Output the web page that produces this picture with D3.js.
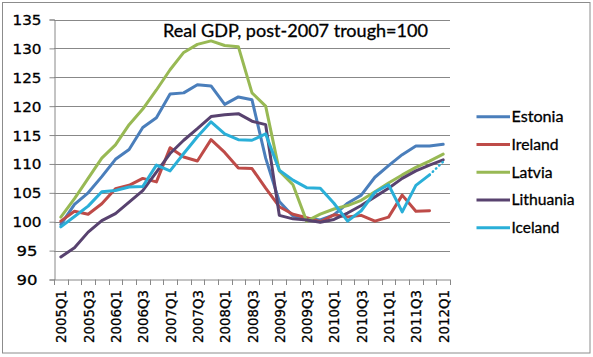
<!DOCTYPE html>
<html>
<head>
<meta charset="utf-8">
<script src="https://cdn.jsdelivr.net/npm/d3@7"></script>
<style>
  html, body { margin: 0; padding: 0; background: #fff; }
  svg { display: block; }
  text { stroke: #000; stroke-width: 0.3px; }
</style>
</head>
<body>
<svg id="chart" width="593" height="357"></svg>
<script>
const quarters = ["2005Q1","2005Q2","2005Q3","2005Q4","2006Q1","2006Q2","2006Q3","2006Q4",
  "2007Q1","2007Q2","2007Q3","2007Q4","2008Q1","2008Q2","2008Q3","2008Q4",
  "2009Q1","2009Q2","2009Q3","2009Q4","2010Q1","2010Q2","2010Q3","2010Q4",
  "2011Q1","2011Q2","2011Q3","2011Q4","2012Q1"];
const xTickLabels = ["2005Q1","2005Q3","2006Q1","2006Q3","2007Q1","2007Q3","2008Q1","2008Q3",
  "2009Q1","2009Q3","2010Q1","2010Q3","2011Q1","2011Q3","2012Q1"];
const yTicks = [90, 95, 100, 105, 110, 115, 120, 125, 130, 135];

const estonia   = [99.5,103,105,107.8,110.8,112.5,116.3,118,122.1,122.3,123.7,123.5,120.3,121.6,121.1,111,103.5,101,100.6,100.3,101.2,103.2,104.6,107.7,109.7,111.6,113.1,113.1,113.4];
const ireland   = [100.1,101.8,101.3,103.1,105.7,106.3,107.5,106.9,112.8,111.2,110.5,114.2,112,109.3,109.2,105.8,102.6,101.3,100.7,100,101.2,100.8,101.1,100.1,100.8,104.6,101.8,101.9,null];
const latvia    = [100.8,104,107.5,111,113.3,116.8,119.5,122.8,126.3,129.3,130.7,131.3,130.5,130.3,122.3,120,108.8,106.4,100.1,101.3,102.2,102.8,103.7,105.2,106.7,108.1,109.4,110.5,111.7];
const lithuania = [93.9,95.5,98.2,100.2,101.4,103.4,105.4,108.6,111.8,114.1,116.1,118.2,118.5,118.7,117.4,116.8,101.1,100.5,100.3,99.9,100.4,101.5,102.8,104.3,105.8,107.5,108.8,109.8,110.7];
const iceland   = [99.1,100.9,102.7,105.2,105.4,106,106.1,109.8,108.8,111.8,114.7,117.3,115.2,114.2,114.1,115.2,108.9,107.2,105.9,105.8,103.2,100.1,101.9,105.1,106.4,101.7,106.3,108.1,null];
const icelandProjection = [null,null,null,null,null,null,null,null,null,null,null,null,null,null,null,null,null,null,null,null,null,null,null,null,null,null,null,108.1,110.4];

const seriesNames = ["Estonia","Ireland","Latvia","Lithuania","Iceland"];
const seriesValues = [estonia, ireland, latvia, lithuania, iceland];
const seriesColors = ["#4A7EBB","#BE4B48","#98B954","#58426F","#2AAFD8"];
const legendWidths = [52, 47, 41, 63, 48];

const svg = d3.select("#chart");
const L = 54, R = 450, T = 19.5, B = 279.5;

// outer border
svg.append("rect").attr("x", 2.5).attr("y", 2.5).attr("width", 587.5).attr("height", 350.5)
  .attr("fill", "#fff").attr("stroke", "#8c8c8c").attr("stroke-width", 1);

const x = d3.scaleBand().domain(quarters).range([L, R]).paddingInner(0).paddingOuter(0);
const y = d3.scaleLinear().domain([90, 135]).range([B, T]);
const cx = q => x(q) + x.bandwidth() / 2;

// gridlines
svg.append("g").selectAll("line").data(yTicks.filter(v => v > 90)).join("line")
  .attr("x1", L).attr("x2", R)
  .attr("y1", d => Math.round(y(d)) + 0.5).attr("y2", d => Math.round(y(d)) + 0.5)
  .attr("stroke", "#888").attr("stroke-width", 1);

// y axis
const yAxis = d3.axisLeft(y).tickValues(yTicks).tickSize(5).tickFormat(d3.format("d"));
const gy = svg.append("g").attr("transform", `translate(${L + 0.5},0)`).call(yAxis);
gy.select(".domain").attr("stroke", "#888");
gy.selectAll(".tick line").attr("stroke", "#888");
gy.selectAll(".tick text").remove();
svg.append("g").selectAll("text").data(yTicks).join("text")
  .attr("x", 27).attr("y", d => y(d) + 5.5)
  .attr("text-anchor", "middle")
  .attr("font-family", "DejaVu Sans").attr("font-size", 14.5).attr("fill", "#000")
  .attr("textLength", d => String(d).length === 3 ? 29 : 21)
  .attr("lengthAdjust", "spacingAndGlyphs")
  .text(d => d);

// x axis: ticks at band boundaries
const boundaries = quarters.map(q => x(q)).concat([R]);
svg.append("line").attr("x1", L).attr("x2", R).attr("y1", B + 0.5).attr("y2", B + 0.5)
  .attr("stroke", "#888");
svg.append("g").selectAll("line").data(boundaries).join("line")
  .attr("x1", d => Math.round(d) + 0.5).attr("x2", d => Math.round(d) + 0.5)
  .attr("y1", B).attr("y2", B + 5.5).attr("stroke", "#888");
svg.append("g").selectAll("text").data(xTickLabels).join("text")
  .attr("transform", d => `translate(${cx(d) + 5.5},290) rotate(-90)`)
  .attr("text-anchor", "end")
  .attr("font-family", "DejaVu Sans").attr("font-size", 14.5).attr("fill", "#000")
  .attr("textLength", 53).attr("lengthAdjust", "spacingAndGlyphs")
  .text(d => d);

// lines
const line = d3.line().defined(d => d[1] != null).x(d => cx(d[0])).y(d => y(d[1]));
seriesValues.forEach((vals, i) => {
  svg.append("path")
    .datum(quarters.map((q, j) => [q, vals[j]]))
    .attr("fill", "none").attr("stroke", seriesColors[i]).attr("stroke-width", 3)
    .attr("stroke-linejoin", "round").attr("stroke-linecap", "round")
    .attr("d", line);
});
svg.append("path")
  .datum(quarters.map((q, j) => [q, icelandProjection[j]]))
  .attr("fill", "none").attr("stroke", seriesColors[4]).attr("stroke-width", 2.5)
  .attr("stroke-dasharray", "0.5,4").attr("stroke-linecap", "round")
  .attr("d", line);

// title
svg.append("text").attr("x", 163).attr("y", 36.5)
  .attr("font-family", "Lato").attr("font-size", 17.5).attr("fill", "#000")
  .attr("textLength", 265).attr("lengthAdjust", "spacingAndGlyphs")
  .text("Real GDP, post-2007 trough=100");

// legend
const lg = svg.append("g").selectAll("g").data(seriesNames).join("g")
  .attr("transform", (d, i) => `translate(0,${116.7 + i * 27.75})`);
lg.append("line").attr("x1", 476.5).attr("x2", 510).attr("y1", 0).attr("y2", 0)
  .attr("stroke", (d, i) => seriesColors[i]).attr("stroke-width", 3);
lg.append("text").attr("x", 511.5).attr("y", 5.5)
  .attr("font-family", "Lato").attr("font-size", 15.5).attr("fill", "#000")
  .attr("textLength", (d, i) => legendWidths[i]).attr("lengthAdjust", "spacingAndGlyphs")
  .text(d => d);
</script>
</body>
</html>
